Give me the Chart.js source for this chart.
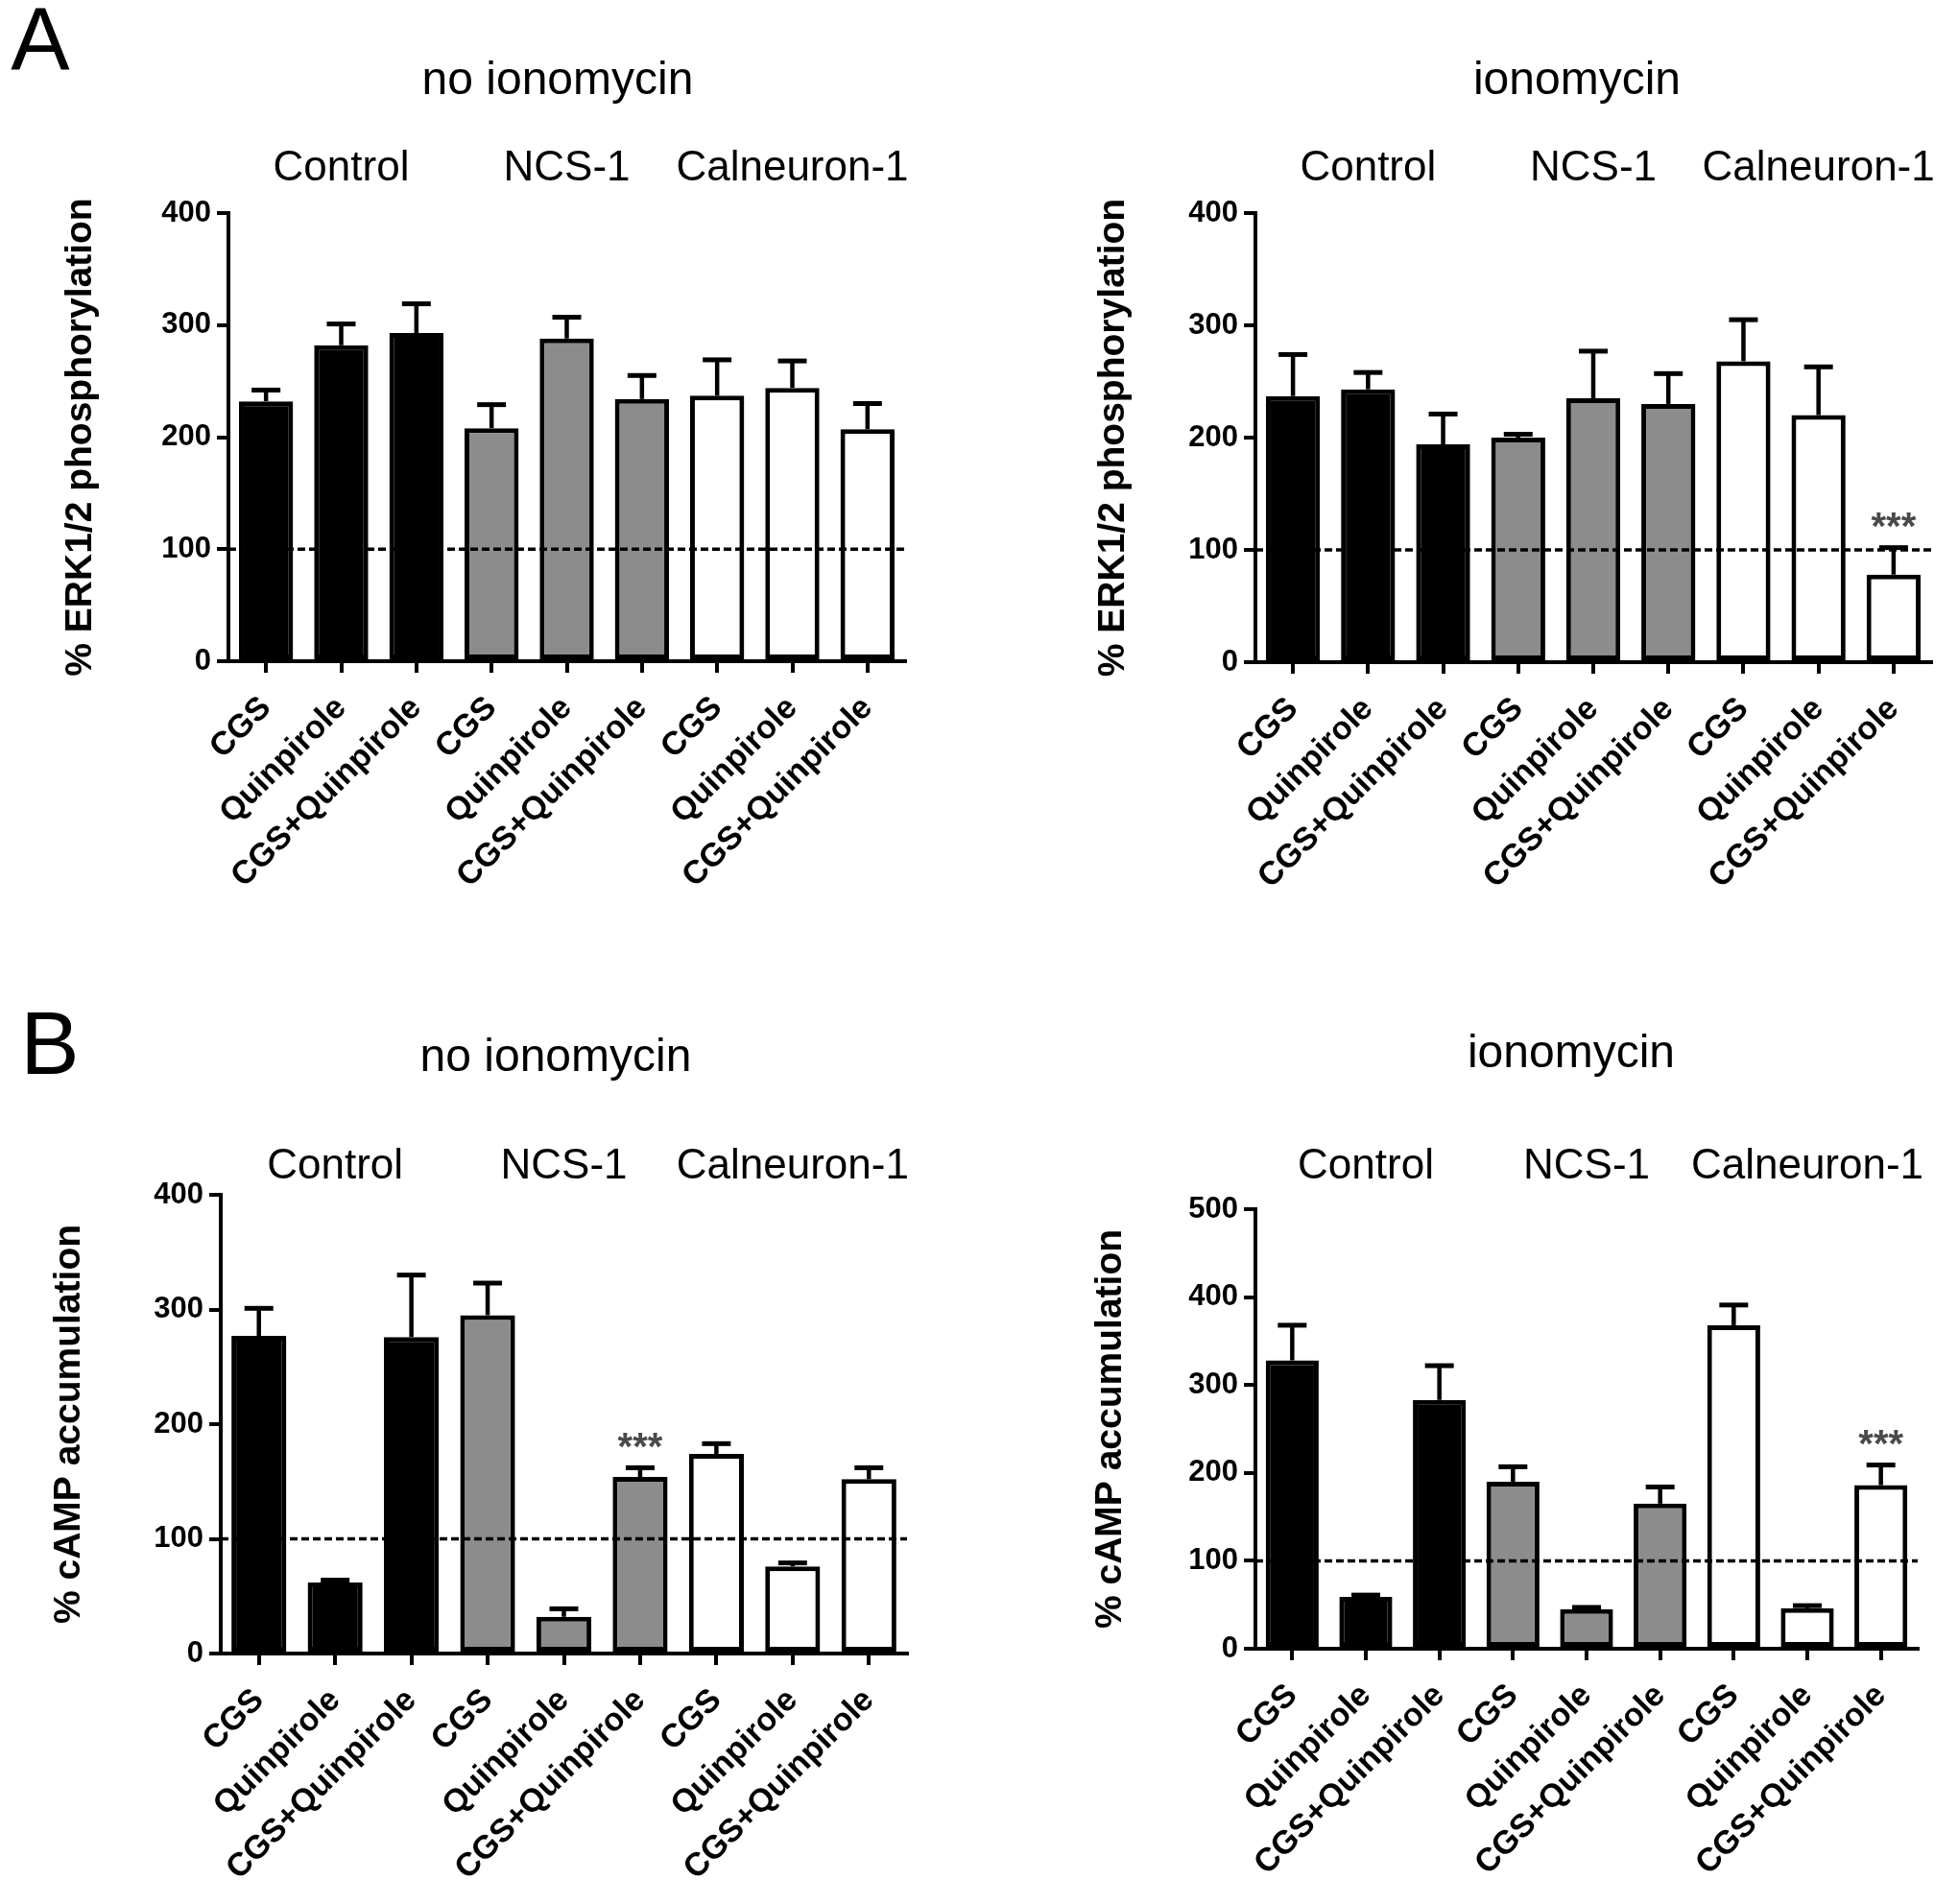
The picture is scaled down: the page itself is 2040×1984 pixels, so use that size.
<!DOCTYPE html>
<html>
<head>
<meta charset="utf-8">
<script src="https://cdn.jsdelivr.net/npm/chart.js@4.4.1/dist/chart.umd.min.js"></script>
<style>
html,body{margin:0;padding:0;background:#fff;}
body{width:2040px;height:1984px;position:relative;overflow:hidden;}
canvas{position:absolute;display:block;}
</style>
</head>
<body>
<canvas id="pA1" width="1020" height="985" style="left:0px;top:0px;width:1020px;height:985px"></canvas>
<canvas id="pA2" width="1020" height="985" style="left:1020px;top:0px;width:1020px;height:985px"></canvas>
<canvas id="pB1" width="1020" height="994" style="left:0px;top:990px;width:1020px;height:994px"></canvas>
<canvas id="pB2" width="1020" height="994" style="left:1020px;top:990px;width:1020px;height:994px"></canvas>
<script>
// ---------------- data ----------------
const categories = ['CGS','Quinpirole','CGS+Quinpirole','CGS','Quinpirole','CGS+Quinpirole','CGS','Quinpirole','CGS+Quinpirole'];
const groupLabels = ['Control','NCS-1','Calneuron-1'];
const groupOfBar = [0,0,0,1,1,1,2,2,2];

const erkNoIono    = [232, 282, 293, 208, 288, 234, 237, 244, 207];
const erkNoIonoErr = [10, 19, 26, 21, 19, 21, 32, 24, 23];
const erkNoIonoSig = ['', '', '', '', '', '', '', '', ''];

const erkIono      = [237, 243, 194, 200, 235, 230, 268, 220, 78];
const erkIonoErr   = [37, 15, 27, 3, 42, 27, 37, 43, 24];
const erkIonoSig   = ['', '', '', '', '', '', '', '', '***'];

const campNoIono    = [277, 62, 276, 295, 32, 154, 174, 76, 152];
const campNoIonoErr = [24, 2, 54, 28, 7, 8, 9, 3, 10];
const campNoIonoSig = ['', '', '', '', '', '***', '', '', ''];

const campIono      = [328, 59, 283, 190, 45, 165, 368, 46, 186];
const campIonoErr   = [40, 2, 39, 17, 2, 19, 23, 3, 23];
const campIonoSig   = ['', '', '', '', '', '', '', '', '***'];

const yTicksERK  = [0, 100, 200, 300, 400];
const yTicksCAMP = [0, 100, 200, 300, 400];
const yTicksCAMP2 = [0, 100, 200, 300, 400, 500];
const baselineValue = 100;

// ---------------- styles ----------------
const FONT = "'Liberation Sans', Arial, Helvetica, sans-serif";
const groupFill = ['#000000', '#8c8c8c', '#ffffff'];

function makePanel(cfg) {
  const cv = document.getElementById(cfg.id);
  const c = cfg.canvas, a = cfg.area;
  const ticks = cfg.yTicks;
  const annot = {
    id: 'annot_' + cfg.id,
    afterDatasetsDraw(chart) {
      const ctx = chart.ctx;
      const xs = chart.scales.x, ys = chart.scales.y;
      const ca = chart.chartArea;
      ctx.save();
      // baseline dashed line
      const yb = ys.getPixelForValue(baselineValue);
      ctx.strokeStyle = '#000';
      ctx.lineWidth = 3.5;
      ctx.setLineDash([8, 4]);
      ctx.beginPath();
      ctx.moveTo(ca.left, yb);
      ctx.lineTo(ca.right, yb);
      ctx.stroke();
      ctx.setLineDash([]);
      // error bars
      const meta = chart.getDatasetMeta(0);
      meta.data.forEach((bar, i) => {
        const x = bar.x;
        const yTop = ys.getPixelForValue(cfg.values[i]);
        const yErr = ys.getPixelForValue(cfg.values[i] + cfg.errs[i]);
        ctx.lineWidth = 4.5;
        ctx.beginPath();
        ctx.moveTo(x, yTop);
        ctx.lineTo(x, yErr);
        ctx.stroke();
        ctx.lineWidth = 5;
        ctx.beginPath();
        ctx.moveTo(x - 15, yErr);
        ctx.lineTo(x + 15, yErr);
        ctx.stroke();
        if (cfg.sig[i]) {
          const sz = 40;
          ctx.fillStyle = '#4a4a4a';
          ctx.font = 'bold ' + sz + 'px ' + FONT;
          ctx.textAlign = 'center';
          ctx.textBaseline = 'alphabetic';
          ctx.fillText(cfg.sig[i], x, yErr - 32 + 0.58 * sz);
        }
      });
      // group labels
      ctx.fillStyle = '#000';
      ctx.font = '44px ' + FONT;
      ctx.textAlign = 'center';
      ctx.textBaseline = 'middle';
      groupLabels.forEach((g, gi) => {
        const gx = xs.getPixelForValue(gi * 3 + 1);
        ctx.fillText(g, gx, cfg.groupY - c.top);
      });
      // panel title
      ctx.font = '48px ' + FONT;
      ctx.fillText(cfg.title, cfg.titleX - c.left, cfg.titleY - c.top);
      // panel letter
      if (cfg.letter) {
        ctx.font = '92px ' + FONT;
        ctx.fillText(cfg.letter, cfg.letterX - c.left, cfg.letterY - c.top);
      }
      ctx.restore();
    }
  };
  const titleFontSize = 39;
  new Chart(cv, {
    type: 'bar',
    data: {
      labels: categories,
      datasets: [{
        data: cfg.values,
        backgroundColor: groupOfBar.map(g => groupFill[g]),
        borderColor: '#000',
        borderWidth: 5,
        borderSkipped: false,
        barPercentage: 0.72,
        categoryPercentage: 1.0
      }]
    },
    options: {
      responsive: false,
      devicePixelRatio: 1,
      animation: false,
      events: [],
      layout: { padding: { top: a.t - c.top, right: c.left + c.w - a.r, left: 0, bottom: 0 } },
      plugins: { legend: { display: false }, tooltip: { enabled: false }, title: { display: false } },
      scales: {
        x: {
          type: 'category',
          offset: true,
          ticks: {
            font: { family: FONT, size: 34, weight: 'bold' },
            color: '#000',
            minRotation: 45, maxRotation: 45,
            autoSkip: false,
            padding: 17
          },
          grid: { offset: false, drawOnChartArea: false, drawTicks: true, tickLength: 12, tickWidth: 4, tickColor: '#000', color: '#000', lineWidth: 4 },
          border: { display: true, color: '#000', width: 4 },
          afterFit: s => { s.height = c.top + c.h - a.b; }
        },
        y: {
          min: ticks[0],
          max: ticks[ticks.length - 1],
          afterBuildTicks: s => { s.ticks = ticks.map(v => ({ value: v })); },
          ticks: {
            font: { family: FONT, size: 31, weight: 'bold' },
            color: '#000',
            padding: 6
          },
          grid: { drawOnChartArea: false, drawTicks: true, tickLength: 12, tickWidth: 4, tickColor: '#000', color: '#000', lineWidth: 4 },
          border: { display: true, color: '#000', width: 4 },
          title: {
            display: true,
            text: cfg.yTitle,
            color: '#000',
            font: { family: FONT, size: titleFontSize, weight: 'bold', lineHeight: 1.2 },
            padding: { top: cfg.yTitleX - c.left - titleFontSize * 0.6, bottom: 0 }
          },
          afterFit: s => { s.width = a.l - c.left; }
        }
      }
    },
    plugins: [annot]
  });
}

makePanel({
  id: 'pA1', canvas: { left: 0, top: 0, w: 1020, h: 985 },
  area: { l: 238, r: 943, t: 222, b: 689 },
  yTicks: yTicksERK, values: erkNoIono, errs: erkNoIonoErr, sig: erkNoIonoSig,
  title: 'no ionomycin', titleX: 581, titleY: 85, groupY: 176,
  yTitle: '% ERK1/2 phosphorylation', yTitleX: 84,
  letter: 'A', letterX: 42, letterY: 48
});
makePanel({
  id: 'pA2', canvas: { left: 1020, top: 0, w: 1020, h: 985 },
  area: { l: 1308, r: 2012, t: 222, b: 690 },
  yTicks: yTicksERK, values: erkIono, errs: erkIonoErr, sig: erkIonoSig,
  title: 'ionomycin', titleX: 1643, titleY: 85, groupY: 176,
  yTitle: '% ERK1/2 phosphorylation', yTitleX: 1160
});
makePanel({
  id: 'pB1', canvas: { left: 0, top: 990, w: 1020, h: 994 },
  area: { l: 230, r: 945, t: 1245, b: 1723 },
  yTicks: yTicksCAMP, values: campNoIono, errs: campNoIonoErr, sig: campNoIonoSig,
  title: 'no ionomycin', titleX: 579, titleY: 1103, groupY: 1216,
  yTitle: '% cAMP accumulation', yTitleX: 72,
  letter: 'B', letterX: 52, letterY: 1094
});
makePanel({
  id: 'pB2', canvas: { left: 1020, top: 990, w: 1020, h: 994 },
  area: { l: 1308, r: 1998, t: 1260, b: 1718 },
  yTicks: yTicksCAMP2, values: campIono, errs: campIonoErr, sig: campIonoSig,
  title: 'ionomycin', titleX: 1637, titleY: 1099, groupY: 1216,
  yTitle: '% cAMP accumulation', yTitleX: 1157
});
</script>
</body>
</html>
